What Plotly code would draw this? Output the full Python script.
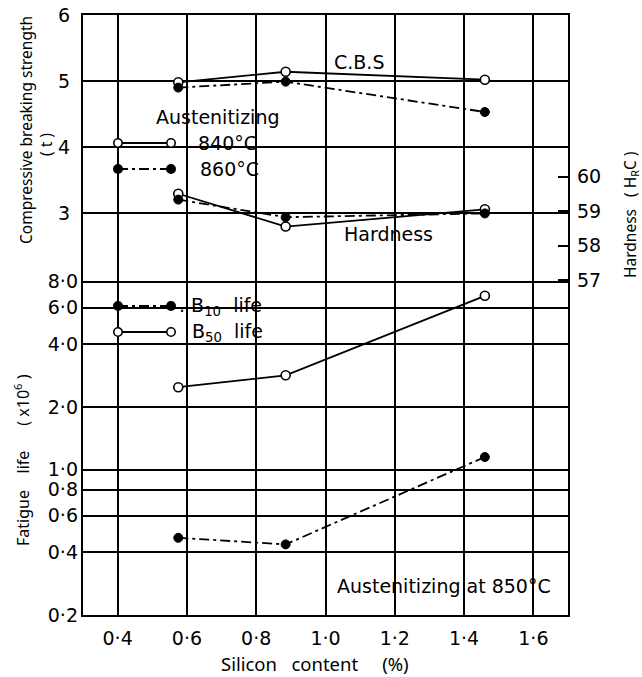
import math
import plotly.graph_objects as go

# ---------------- data ----------------
silicon = [0.575, 0.885, 1.46]            # Silicon content (%)
cbs_840 = [4.98, 5.14, 5.02]              # Compressive breaking strength (t), 840 °C
cbs_860 = [4.90, 4.99, 4.53]              # Compressive breaking strength (t), 860 °C
hard_840 = [59.50, 58.55, 59.05]          # Hardness (HRC), 840 °C
hard_860 = [59.33, 58.82, 58.93]          # Hardness (HRC), 860 °C
b50_life = [2.49, 2.84, 6.85]             # Fatigue life B50 (x10^6)
b10_life = [0.47, 0.437, 1.15]            # Fatigue life B10 (x10^6)

x_ticks = [0.4, 0.6, 0.8, 1.0, 1.2, 1.4, 1.6]
x_ticktext = ["0·4", "0·6", "0·8", "1·0", "1·2", "1·4", "1·6"]
cbs_ticks = [3, 4, 5, 6]
cbs_ticktext = ["3", "4", "5", "6"]
life_ticks = [0.2, 0.4, 0.6, 0.8, 1.0, 2.0, 4.0, 6.0, 8.0]
life_ticktext = ["0·2", "0·4", "0·6", "0·8", "1·0", "2·0", "4·0", "6·0", "8·0"]
hard_ticks = [57, 58, 59, 60]
hard_ticktext = ["57", "58", "59", "60"]

# ---------------- layout geometry ----------------
W, H = 642, 677
L, R, T, B = 83, 568, 15, 615
PW, PH = R - L, B - T
FONT = "DejaVu Sans"
TFONT = "Noto Sans"
BLACK = "black"
NB = "\u00a0"


def px(xp):
    return (xp - L) / PW


def py(yp):
    return (B - yp) / PH


fig = go.Figure()

line_w = 1.8
dash_style = "10px,4px,3px,4px"
open_marker = dict(symbol="circle", size=9, color="white", line=dict(color=BLACK, width=1.6))
fill_marker = dict(symbol="circle", size=9, color=BLACK, line=dict(color=BLACK, width=1))

fig.add_trace(go.Scatter(x=silicon, y=cbs_840, mode="lines+markers", yaxis="y",
                         line=dict(color=BLACK, width=line_w), marker=open_marker))
fig.add_trace(go.Scatter(x=silicon, y=cbs_860, mode="lines+markers", yaxis="y",
                         line=dict(color=BLACK, width=line_w, dash=dash_style), marker=fill_marker))
fig.add_trace(go.Scatter(x=silicon, y=hard_840, mode="lines+markers", yaxis="y3",
                         line=dict(color=BLACK, width=line_w), marker=open_marker))
fig.add_trace(go.Scatter(x=silicon, y=hard_860, mode="lines+markers", yaxis="y3",
                         line=dict(color=BLACK, width=line_w, dash=dash_style), marker=fill_marker))
fig.add_trace(go.Scatter(x=silicon, y=b50_life, mode="lines+markers", yaxis="y2",
                         line=dict(color=BLACK, width=line_w), marker=open_marker))
fig.add_trace(go.Scatter(x=silicon, y=b10_life, mode="lines+markers", yaxis="y2",
                         line=dict(color=BLACK, width=line_w, dash=dash_style), marker=fill_marker))

# axis ranges chosen so the three scales align as in the original
cbs_px_per_unit = 66.0
cbs_range = [6 - PH / cbs_px_per_unit, 6]
life_px_per_decade = 208.0
life_range = [math.log10(0.2), math.log10(0.2) + PH / life_px_per_decade]
hard_px_per_unit = 34.5
hard_59_y = 211
hard_range = [59 - (B - hard_59_y) / hard_px_per_unit, 59 + (hard_59_y - T) / hard_px_per_unit]

tickfont = dict(family=FONT, size=19, color=BLACK)

fig.update_layout(
    width=W, height=H,
    margin=dict(l=L, r=W - R, t=T, b=H - B, pad=0, autoexpand=False),
    paper_bgcolor="white", plot_bgcolor="white",
    showlegend=False,
    font=dict(family=FONT, color=BLACK),
    xaxis=dict(range=[0.3, 1.7], tickvals=x_ticks, ticktext=x_ticktext, tickfont=tickfont,
               showgrid=True, gridcolor=BLACK, gridwidth=1.5, zeroline=False,
               showline=True, mirror=True, linecolor=BLACK, linewidth=2, ticks="",
               ticklabelstandoff=5, automargin=False),
    yaxis=dict(range=cbs_range, tickvals=cbs_ticks, ticktext=cbs_ticktext, tickfont=tickfont,
               showgrid=True, gridcolor=BLACK, gridwidth=1.5, zeroline=False,
               showline=True, mirror=True, linecolor=BLACK, linewidth=2, ticks="",
               ticklabelstandoff=7, automargin=False),
    yaxis2=dict(type="log", range=life_range, overlaying="y", side="left", anchor="x",
                tickvals=life_ticks, ticktext=life_ticktext, tickfont=tickfont,
                showgrid=True, gridcolor=BLACK, gridwidth=1.5, zeroline=False,
                showline=False, ticks="", ticklabelstandoff=4, automargin=False),
    yaxis3=dict(range=hard_range, overlaying="y", side="right", anchor="x",
                tickvals=hard_ticks, ticktext=hard_ticktext, tickfont=tickfont,
                showgrid=False, zeroline=False, showline=False,
                ticks="inside", ticklen=10, tickwidth=1.5, tickcolor=BLACK,
                ticklabelstandoff=8, automargin=False),
)

# white-out areas behind labels (interrupt gridlines like the original)
shapes = []
for (x0, y0, x1, y1) in [(106, 99, 300, 181), (106, 287, 302, 340),
                         (336, 217, 434, 256), (334, 563, 566, 600)]:
    shapes.append(dict(type="rect", xref="paper", yref="paper", layer="between",
                       x0=px(x0), x1=px(x1), y0=py(y1), y1=py(y0),
                       fillcolor="white", line=dict(width=0)))

# legend samples
r = 4.2


def sample(yp, filled, dashed):
    shapes.append(dict(type="line", xref="paper", yref="paper", layer="above",
                       x0=px(118), x1=px(171), y0=py(yp), y1=py(yp),
                       line=dict(color=BLACK, width=1.8, dash=dash_style if dashed else "solid")))
    for xc in (118, 171):
        shapes.append(dict(type="circle", xref="paper", yref="paper", layer="above",
                           x0=px(xc - r), x1=px(xc + r), y0=py(yp + r), y1=py(yp - r),
                           fillcolor=BLACK if filled else "white",
                           line=dict(color=BLACK, width=1.6)))


sample(143, False, False)
sample(169, True, True)
sample(306, True, True)
sample(332, False, False)
fig.update_layout(shapes=shapes)

lab = dict(family=FONT, size=19, color=BLACK)
annotations = [
    dict(text="C.B.S", x=px(332), y=py(62), xanchor="left"),
    dict(text="Hardness", x=px(342), y=py(234), xanchor="left"),
    dict(text="Austenitizing at 850°C", x=px(335), y=py(586), xanchor="left"),
    dict(text="Austenitizing", x=px(154), y=py(117), xanchor="left"),
    dict(text="840°C", x=px(196), y=py(143), xanchor="left"),
    dict(text="860°C", x=px(198), y=py(169), xanchor="left"),
    dict(text="." + NB + "B<sub>10</sub>" + NB * 2 + "life", x=px(177), y=py(306), xanchor="left"),
    dict(text="B<sub>50</sub>" + NB * 2 + "life", x=px(190), y=py(332), xanchor="left"),
]
ann = []
for a in annotations:
    a.update(xref="paper", yref="paper", yanchor="middle", showarrow=False, font=lab)
    ann.append(a)

titles = [
    dict(text="Compressive breaking strength", x=px(26), y=py(130), textangle=-90, size=15.5),
    dict(text="(" + NB + "t" + NB + ")", x=px(46), y=py(145), textangle=-90, size=15.5),
    dict(text="Fatigue" + NB * 4 + "life" + NB * 6 + "(" + NB + "x10<sup>6</sup>" + NB + ")",
         x=px(22), y=py(460), textangle=-90, size=16),
    dict(text="Hardness" + NB * 3 + "(" + NB + "H<sub>R</sub>C" + NB + ")",
         x=px(630), y=py(215), textangle=-90, size=15.5),
    dict(text="Silicon" + NB * 3 + "content" + NB * 5 + "(%)", x=px(315), y=py(663),
         textangle=0, size=18.5),
]
for a in titles:
    size = a.pop("size")
    a.update(xref="paper", yref="paper", xanchor="center", yanchor="middle",
             showarrow=False, font=dict(family=TFONT, size=size, color=BLACK))
    ann.append(a)

fig.update_layout(annotations=ann)

fig.write_html("out.html")
